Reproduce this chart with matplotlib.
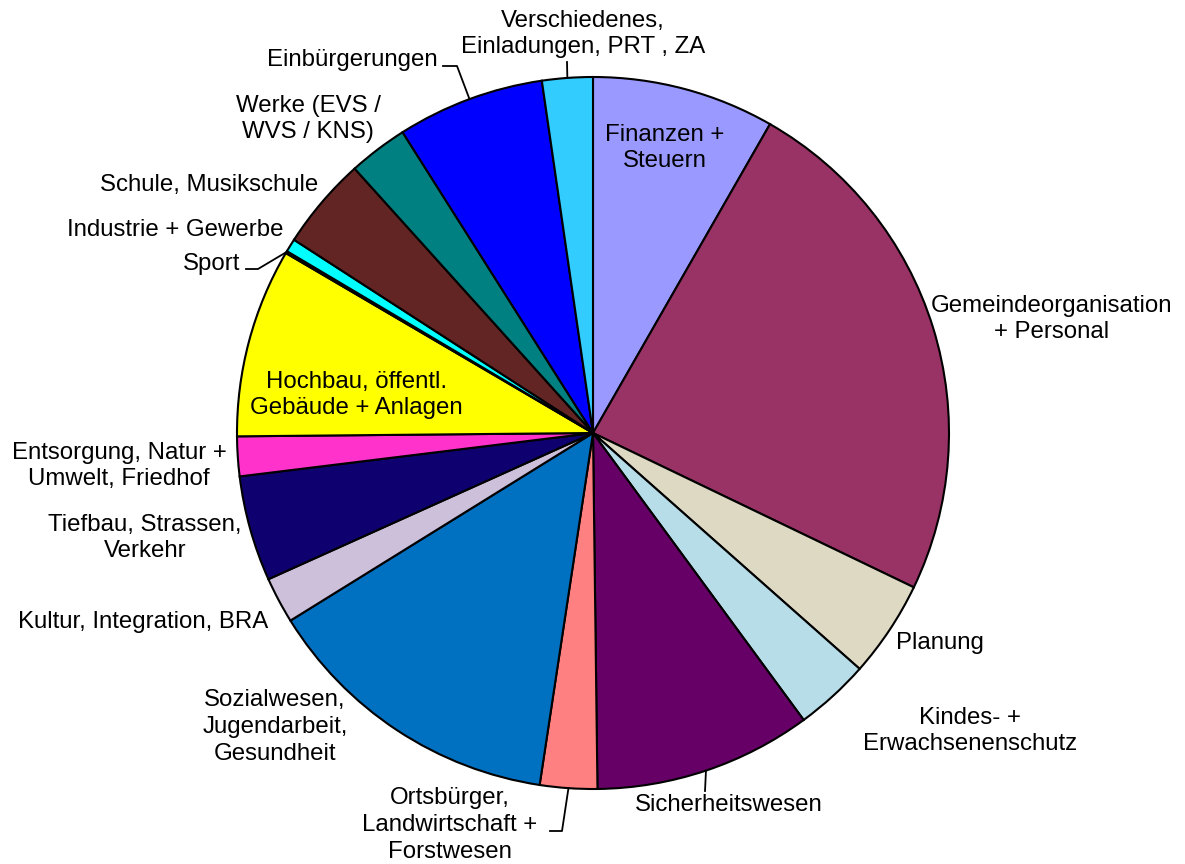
import numpy as np
import matplotlib
matplotlib.use("Agg")
import matplotlib.pyplot as plt

plt.rcParams["font.family"] = ["Liberation Sans", "DejaVu Sans"]

# Anteile in Prozent, im Uhrzeigersinn ab 12 Uhr
categories = [
    "Finanzen +\nSteuern",
    "Gemeindeorganisation\n+ Personal",
    "Planung",
    "Kindes- +\nErwachsenenschutz",
    "Sicherheitswesen",
    "Ortsbürger,\nLandwirtschaft +\nForstwesen",
    "Sozialwesen,\nJugendarbeit,\nGesundheit",
    "Kultur, Integration, BRA",
    "Tiefbau, Strassen,\nVerkehr",
    "Entsorgung, Natur +\nUmwelt, Friedhof",
    "Hochbau, öffentl.\nGebäude + Anlagen",
    "Sport",
    "Industrie + Gewerbe",
    "Schule, Musikschule",
    "Werke (EVS /\nWVS / KNS)",
    "Einbürgerungen",
    "Verschiedenes,\nEinladungen, PRT , ZA",
]
shares = [8.3, 23.9, 4.4, 3.4, 9.9, 2.6, 13.8, 2.1, 4.8, 1.8, 8.6, 0.1, 0.6, 4.2, 2.7, 6.7, 2.3]
colors = [
    "#9999FF", "#993366", "#DDD9C3", "#B7DDE8", "#660066", "#FF8080",
    "#0070C0", "#CCC0DA", "#0F0070", "#FF33CC", "#FFFF00", "#000000",
    "#00FFFF", "#632523", "#008080", "#0000FF", "#33CCFF",
]

W, H = 1185, 864
cx, cy, R = 593, H - 433, 356

# label centres in pixel coords (x, y from top)
label_pos = [
    (665, 148), (1052, 319), (940, 643), (970, 731), (729, 805),
    (450, 825), (275, 727), (143, 622), (145, 538), (119, 466),
    (356, 395), (212, 264), (175, 230), (209, 185), (308, 119),
    (352, 60), (583, 34),
]
# leader line start points (pixel), ending at the wedge edge
leaders = {
    4: [(705, 791)],
    5: [(550, 831), (562, 831)],
    11: [(246, 269), (258, 269)],
    15: [(443, 66), (457, 66)],
    16: [(567, 62)],
}

fig = plt.figure(figsize=(W / 100, H / 100), dpi=100)
ax = fig.add_axes([0, 0, 1, 1])
wedges, _ = ax.pie(
    shares, colors=colors, radius=R, center=(cx, cy), startangle=90,
    counterclock=False, wedgeprops=dict(edgecolor="black", linewidth=1.5),
)
ax.set_xlim(0, W)
ax.set_ylim(0, H)
ax.set_aspect("equal")
ax.axis("off")

for i, (lab, (x, y)) in enumerate(zip(categories, label_pos)):
    ax.text(x, H - y, lab, ha="center", va="center", fontsize=17.25,
            multialignment="center", linespacing=1.28)

for i, pts in leaders.items():
    w = wedges[i]
    mid = np.deg2rad((w.theta1 + w.theta2) / 2)
    ex, ey = cx + R * np.cos(mid), cy + R * np.sin(mid)
    xs = [p[0] for p in pts] + [ex]
    ys = [H - p[1] for p in pts] + [ey]
    ax.plot(xs, ys, color="black", lw=1.3)

fig.savefig("out.png", dpi=100)
